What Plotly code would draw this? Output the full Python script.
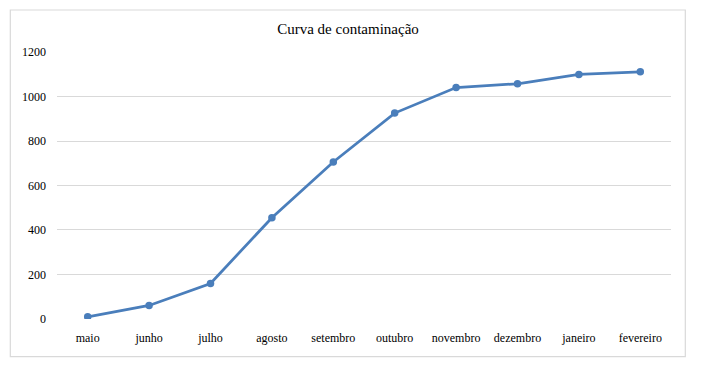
import plotly.graph_objects as go

months = ["maio", "junho", "julho", "agosto", "setembro", "outubro",
          "novembro", "dezembro", "janeiro", "fevereiro"]
cases = [9, 60, 159, 455, 706, 926, 1041, 1058, 1100, 1112]
y_ticks = [0, 200, 400, 600, 800, 1000, 1200]
title_text = "Curva de contaminação"

W, H = 706, 370
ml, mr, mt, mb = 57, 35, 52, 51
pw = W - ml - mr
ph = H - mt - mb

font = dict(family="Liberation Serif", color="#000000")

fig = go.Figure()
fig.add_trace(go.Scatter(
    x=months, y=cases, mode="lines+markers",
    line=dict(color="#4a7ebb", width=2.75),
    marker=dict(color="#4a7ebb", size=7.5),
    showlegend=False, hoverinfo="x+y",
))

# border box in paper coordinates
bx0 = (10.3 - ml) / pw
bx1 = (685.3 - ml) / pw
by0 = (H - 356.7 - mb) / ph
by1 = (H - 10 - mb) / ph
fig.add_shape(type="rect", xref="paper", yref="paper",
              x0=bx0, x1=bx1, y0=by0, y1=by1,
              line=dict(color="#d9d9d9", width=1.2), fillcolor="rgba(0,0,0,0)",
              layer="below")

fig.update_layout(
    width=W, height=H,
    margin=dict(l=ml, r=mr, t=mt, b=mb, pad=0),
    paper_bgcolor="white", plot_bgcolor="white",
    font=dict(size=12, **font),
    title=dict(text=title_text, x=348 / W, xref="container", xanchor="center",
               y=1 - 29 / H, yref="container", yanchor="middle",
               font=dict(size=15, **font)),
    xaxis=dict(type="category", range=[-0.5, 9.5], showgrid=False,
               showline=False, zeroline=False, ticks="",
               ticklabelstandoff=10, tickfont=dict(size=12, **font)),
    yaxis=dict(range=[-1, 1201], tickvals=y_ticks, showgrid=True,
               gridcolor="#d9d9d9", gridwidth=1, showline=False, zeroline=False,
               ticks="", ticklabelstandoff=10, tickfont=dict(size=12, **font)),
)

fig.write_html("out.html", config={"displayModeBar": False},
               post_script="document.body.style.margin='0';document.body.style.overflow='hidden';")
